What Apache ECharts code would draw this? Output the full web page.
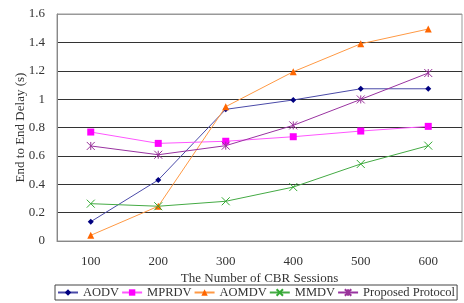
<!DOCTYPE html>
<html><head><meta charset="utf-8">
<script src="https://cdn.jsdelivr.net/npm/echarts@6/dist/echarts.min.js"></script>
<style>html,body{margin:0;padding:0;background:#fff}#c{width:464px;height:303px}</style>
</head><body><div id="c"></div>
<script>
const categories = ['100','200','300','400','500','600'];
const aodv = [0.136, 0.43, 0.928, 0.994, 1.073, 1.073];
const mprdv = [0.768, 0.688, 0.703, 0.735, 0.775, 0.808];
const aomdv = [0.04, 0.245, 0.947, 1.193, 1.39, 1.494];
const mmdv = [0.263, 0.245, 0.28, 0.38, 0.543, 0.672];
const proposed = [0.67, 0.608, 0.672, 0.815, 0.998, 1.184];
const seriesNames = ['AODV','MPRDV','AOMDV','MMDV','Proposed Protocol'];

const font = 'Liberation Serif';
const xSym = 'path://M0,0L10,10M10,0L0,10';
const starSym = 'path://M0,0L10,10M10,0L0,10M5,0L5,10';

function mk(name, data, lineColor, markColor, symbol, size, strokeOnly) {
  return {
    name, type: 'line', data, symbol, symbolSize: size,
    lineStyle: { color: lineColor, width: 1 },
    itemStyle: strokeOnly ? { color: 'rgba(0,0,0,0)', borderColor: markColor, borderWidth: 1 } : { color: markColor, borderWidth: 0 },
    color: markColor
  };
}

const chart = echarts.init(document.getElementById('c'));
chart.setOption({
  animation: false,
  textStyle: { fontFamily: font },
  grid: { left: 57, right: 2, top: 14, bottom: 62, show: true, borderColor: '#999', borderWidth: 1 },
  xAxis: {
    type: 'category', data: categories, boundaryGap: true,
    name: 'The Number of CBR Sessions', nameLocation: 'middle', nameGap: 31,
    nameMoveOverlap: false,
    nameTextStyle: { fontFamily: font, fontSize: 13, color: '#333' },
    axisLine: { lineStyle: { color: '#888' } },
    axisTick: { inside: true, length: 4, lineStyle: { color: '#555' } },
    axisLabel: { fontFamily: font, fontSize: 13, color: '#333', margin: 14 }
  },
  yAxis: {
    type: 'value', min: 0, max: 1.6, interval: 0.2,
    name: 'End to End Delay (s)', nameLocation: 'middle', nameGap: 30,
    nameMoveOverlap: false,
    nameTextStyle: { fontFamily: font, fontSize: 13, color: '#333' },
    axisLine: { show: true, lineStyle: { color: '#888' } },
    axisTick: { show: false },
    axisLabel: { fontFamily: font, fontSize: 13, color: '#333', margin: 12,
      formatter: v => String(Math.round(v * 10) / 10) },
    splitLine: { lineStyle: { color: ['#888','#333','#333','#333','#333','#333','#333','#333','#999'], width: 1 } }
  },
  legend: {
    data: seriesNames, left: 55, bottom: 3, width: 460,
    borderColor: '#444', borderWidth: 1, padding: [1, 2], itemGap: 2,
    itemWidth: 20, itemHeight: 8,
    textStyle: { fontFamily: font, fontSize: 12.5, color: '#333' }
  },
  series: [
    mk('AODV', aodv, '#4a4aa8', '#000080', 'diamond', 6, false),
    mk('MPRDV', mprdv, '#ff55ff', '#ff00ff', 'rect', 7, false),
    mk('AOMDV', aomdv, '#ff9944', '#ff6600', 'triangle', 7, false),
    mk('MMDV', mmdv, '#44aa44', '#33aa33', xSym, 8, true),
    mk('Proposed Protocol', proposed, '#9933a0', '#993399', starSym, 8, true)
  ]
});
</script></body></html>
